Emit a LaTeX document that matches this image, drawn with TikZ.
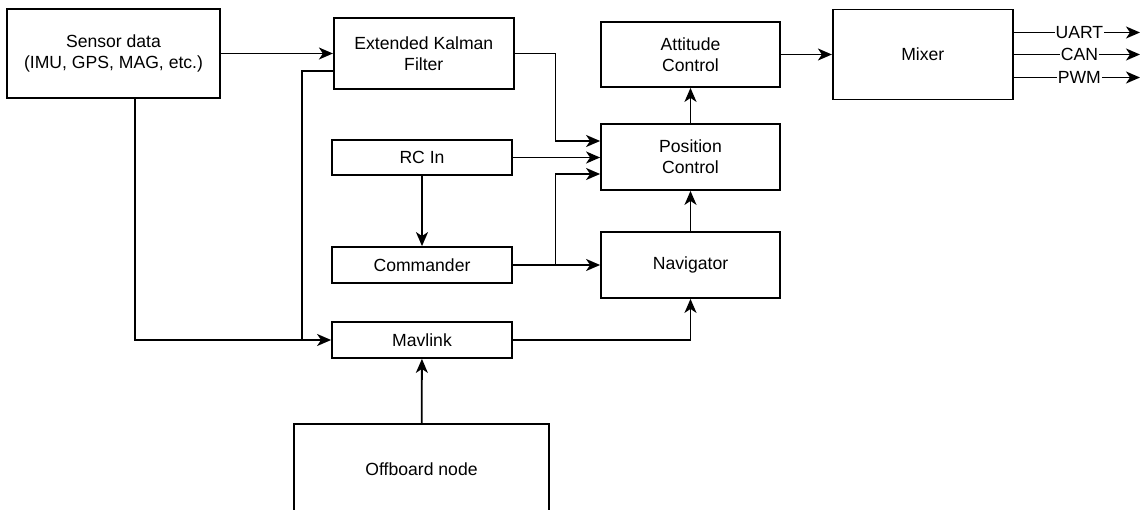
\documentclass[tikz,border=0pt]{standalone}
\usepackage{fontspec}
\setmainfont{Liberation Sans}
\usetikzlibrary{arrows.meta,positioning}

\begin{document}
\begin{tikzpicture}[font=\fontsize{17.6}{21}\selectfont,line width=1.8pt,
 >={Stealth[length=14pt,width=12pt,inset=4pt]},node distance=112pt and 89pt,
 box/.style={draw,inner sep=0pt,align=center,minimum width=180pt,minimum height=36pt},
 flow/.style={->},
 tag/.style={fill=white,inner sep=1pt}]
\clip (0,0) rectangle (1141pt,-510pt);
\node[box,minimum width=213pt,minimum height=89pt] (sensor) at (113.5pt,-53.5pt) {Sensor data\\(IMU, GPS, MAG, etc.)};
\node[box,minimum height=71pt,right=112pt of sensor] (ekf) {Extended Kalman\\Filter};
\node[box,minimum width=179pt,minimum height=65pt] (att) at (690.5pt,-54.5pt) {Attitude\\Control};
\node[box,minimum height=90pt,right=51pt of att] (mixer) {Mixer};
\node[box,minimum width=179pt,minimum height=66pt] (pos) at (690.5pt,-157pt) {Position\\Control};
\node[box,minimum height=35pt] (rc) at (422pt,-157.5pt) {RC In};
\node[box] (cmd) at (422pt,-265pt) {Commander};
\node[box,minimum width=179pt,minimum height=66pt] (nav) at (690.5pt,-265pt) {Navigator};
\node[box] (mav) at (422pt,-340pt) {Mavlink};
\node[box,minimum width=255pt,minimum height=90pt] (off) at (421.5pt,-469pt) {Offboard node};
\coordinate (bus) at (555.5pt,-265pt);
\coordinate (tap) at (302pt,-340pt);
\draw[flow] (sensor) -- (ekf);
\draw[flow] ([xshift=21.5pt]sensor.south) |- (mav);
\draw (tap) |- ([yshift=-17.5pt]ekf.west);
\draw[flow] (ekf.east) -| (bus |- pos.north) |- ([yshift=16pt]pos.west);
\draw[flow] (rc.east) -- (rc.east -| pos.west);
\draw[flow] (rc) -- (cmd);
\draw[flow] (cmd) -- (nav);
\draw[flow] (bus) |- ([yshift=-17pt]pos.west);
\draw[flow] (mav.east) -| (nav.south);
\draw[flow] (off) -- (mav);
\draw[flow] (nav) -- (pos);
\draw[flow] (pos) -- (att);
\draw[flow] (att) -- (mixer);
\foreach \name/\dy in {UART/22,CAN/0,PWM/-23} {
 \coordinate (\name) at ([yshift=\dy pt]mixer.east -| 1140pt,0);
 \draw[flow] ([yshift=\dy pt]mixer.east) -- node[tag,pos=0.52] {\name} (\name);
}
\end{tikzpicture}
\end{document}
